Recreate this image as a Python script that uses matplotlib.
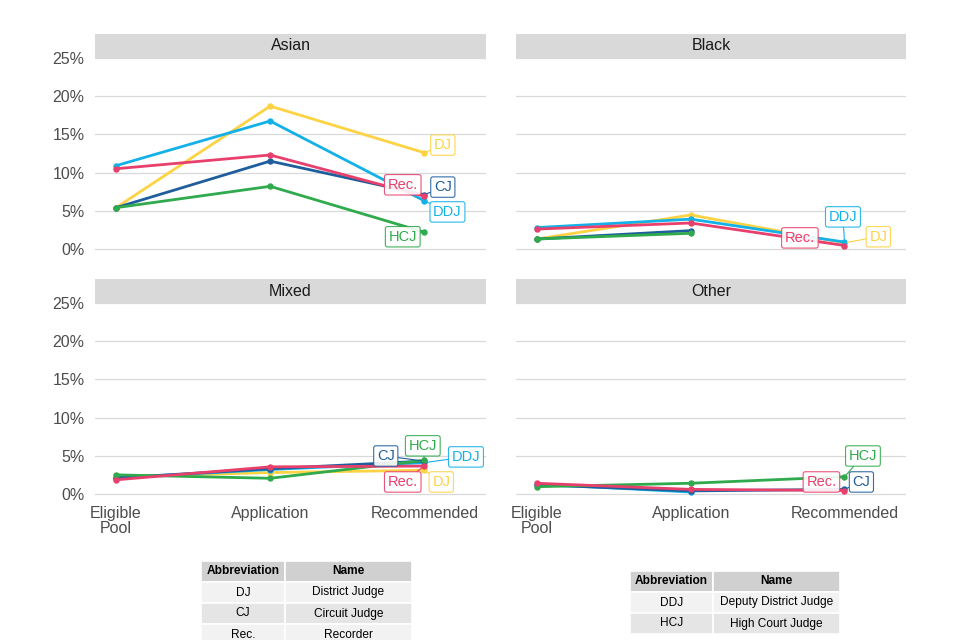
import numpy as np
import matplotlib
matplotlib.use("Agg")
import matplotlib.pyplot as plt
from matplotlib.patches import Rectangle

plt.rcParams['font.family'] = ['Liberation Sans', 'DejaVu Sans']

# data (percent of each group), None = no value
stages = ['Eligible\nPool', 'Application', 'Recommended']
roles = ['DJ', 'DDJ', 'CJ', 'HCJ', 'Rec.']

asian = {'DJ': [5.4, 18.7, 12.6], 'DDJ': [10.9, 16.75, 6.3], 'CJ': [5.4, 11.5, 7.1],
         'HCJ': [5.4, 8.2, 2.2], 'Rec.': [10.5, 12.3, 6.9]}
black = {'DJ': [1.3, 4.45, 0.8], 'DDJ': [2.8, 3.9, 0.9], 'CJ': [1.3, 2.4, None],
         'HCJ': [1.3, 2.05, None], 'Rec.': [2.6, 3.4, 0.45]}
mixed = {'DJ': [2.25, 2.8, 3.1], 'DDJ': [2.1, 3.2, 4.1], 'CJ': [2.1, 3.3, 4.3],
         'HCJ': [2.5, 2.05, 4.4], 'Rec.': [1.85, 3.55, 3.65]}
other = {'DJ': [None, None, None], 'DDJ': [1.3, 0.25, None], 'CJ': [1.2, 0.4, 0.6],
         'HCJ': [0.95, 1.4, 2.25], 'Rec.': [1.4, 0.6, 0.45]}

panels = [('Asian', asian), ('Black', black), ('Mixed', mixed), ('Other', other)]

table_left = [('DJ', 'District Judge'), ('CJ', 'Circuit Judge'), ('Rec.', 'Recorder')]
table_right = [('DDJ', 'Deputy District Judge'), ('HCJ', 'High Court Judge')]

colors = {'DJ': '#FDD344', 'DDJ': '#13B1E8', 'CJ': '#1F5E9C', 'HCJ': '#2FAA4C', 'Rec.': '#E8406C'}

# label placement (x index, y percent) for end labels
label_pos = {
    'Asian': {'DJ': (2.12, 13.6), 'CJ': (2.12, 8.1), 'Rec.': (1.86, 8.4), 'DDJ': (2.15, 4.85), 'HCJ': (1.86, 1.6)},
    'Black': {'DDJ': (1.99, 4.2), 'DJ': (2.22, 1.6), 'Rec.': (1.71, 1.45)},
    'Mixed': {'HCJ': (1.99, 6.3), 'CJ': (1.75, 4.97), 'DDJ': (2.27, 4.85), 'Rec.': (1.86, 1.57), 'DJ': (2.11, 1.57)},
    'Other': {'HCJ': (2.12, 4.97), 'Rec.': (1.85, 1.57), 'CJ': (2.11, 1.57)},
}

W, H = 960, 640
fig = plt.figure(figsize=(9.6, 6.4), dpi=100)

# axes boxes in pixels: left, top, right, bottom
boxes = [(95, 58, 486, 258.5), (516, 58, 906, 258.5),
         (95, 303, 486, 503.5), (516, 303, 906, 503.5)]

for i, ((name, data), (l, t, r, b)) in enumerate(zip(panels, boxes)):
    ax = fig.add_axes([l / W, 1 - b / H, (r - l) / W, (b - t) / H])
    x = np.arange(len(stages))
    for role in roles:
        vals = np.array([np.nan if v is None else v for v in data[role]], dtype=float)
        if np.all(np.isnan(vals)):
            continue
        ax.plot(x, vals, color=colors[role], lw=2.0, marker='o', ms=3.6, zorder=3,
                solid_capstyle='round')
    for role, (lx, ly) in label_pos[name].items():
        yv = data[role][2]
        ax.annotate(role, xy=(2, yv), xytext=(lx, ly), textcoords='data',
                    ha='center', va='center', fontsize=10.5, color=colors[role], zorder=5,
                    bbox=dict(boxstyle='round,pad=0.22,rounding_size=0.15', fc='white',
                              ec=colors[role], lw=0.8, alpha=0.9),
                    arrowprops=dict(arrowstyle='-', color=colors[role], lw=0.8,
                                    shrinkA=0, shrinkB=2))
    ax.set_xlim(-0.136, 2.4)
    ax.set_ylim(-1.25, 25)
    ax.set_yticks([0, 5, 10, 15, 20, 25])
    ax.set_yticklabels(['0%', '5%', '10%', '15%', '20%', '25%'])
    ax.set_xticks(x)
    ax.set_xticklabels(stages, linespacing=1.05)
    ax.grid(axis='y', color='#D9D9D9', lw=0.9)
    ax.set_axisbelow(True)
    for s in ax.spines.values():
        s.set_visible(False)
    ax.tick_params(length=0, labelsize=11.5, labelcolor='#4D4D4D')
    ax.tick_params(axis='x', pad=1.5)
    ax.tick_params(axis='y', pad=7.5)
    if i % 2 == 1:
        ax.tick_params(labelleft=False)
    if i < 2:
        ax.tick_params(labelbottom=False)
    # facet strip
    sh = 24 / (b - t)
    ax.add_patch(Rectangle((0, 1), 1, sh, transform=ax.transAxes, fc='#D9D9D9',
                           ec='none', clip_on=False))
    ax.text(0.5, 1 + sh / 2, name, transform=ax.transAxes, ha='center', va='center',
            fontsize=11.5, color='#1A1A1A')


def draw_table(left, top, widths, rows, row_h=21):
    header = ('Abbreviation', 'Name')
    allrows = [header] + rows
    for r, row in enumerate(allrows):
        y0 = top + r * row_h
        xc = left
        for c, txt in enumerate(row):
            if r == 0:
                fc = '#D0D0D0'
            elif r % 2 == 1:
                fc = '#F2F2F2'
            else:
                fc = '#E5E5E5'
            fig.patches.append(Rectangle((xc / W, 1 - (y0 + row_h) / H), widths[c] / W, row_h / H,
                                         transform=fig.transFigure, fc=fc, ec='white', lw=1.2))
            fig.text((xc + widths[c] / 2) / W, 1 - (y0 + row_h / 2) / H, txt,
                     ha='center', va='center', fontsize=8.6, color='black',
                     fontweight='bold' if r == 0 else 'normal')
            xc += widths[c]


draw_table(201, 561, [84, 127], table_left)
draw_table(630, 571, [83, 127], table_right)

fig.savefig('out.png', dpi=100)
